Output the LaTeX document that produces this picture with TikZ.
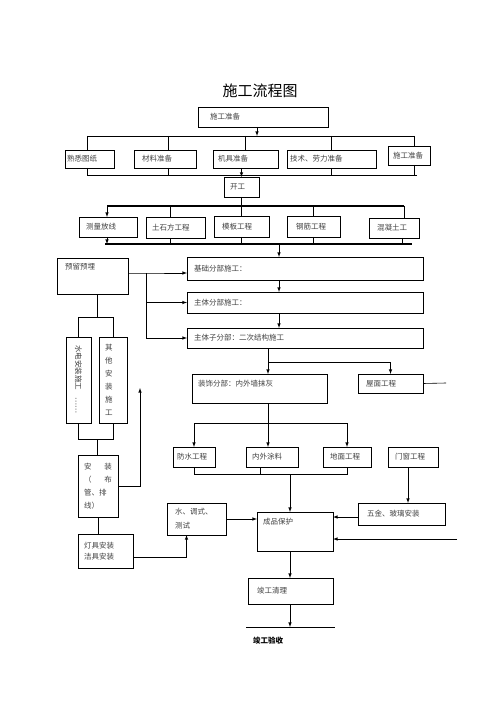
\documentclass[tikz,border=0pt]{standalone}
\usepackage{fontspec}
\setmainfont{Noto Sans CJK SC}
\usetikzlibrary{positioning}

\begin{document}
\begin{tikzpicture}[x=1pt,y=-1pt,semithick,every node/.style={block},
        block/.style={draw,rectangle,outer sep=0pt,inner xsep=6pt,inner ysep=0pt,minimum height=20pt,
          anchor=north west,align=left,text=black!75,font=\fontsize{7.5}{9}\selectfont},
        bus/.style={line width=1.3pt}]
   \useasboundingbox (0,0) rectangle (500,708);
   \node (TT) [draw=none,anchor=center,text=black,font=\fontsize{15}{18}\selectfont] at (260,91) {施工流程图};

   \node (A) [text width=106pt,inner xsep=12pt] at (198,107) {施工准备};
   \node (B) [text width=45pt,inner xsep=2pt,minimum height=18pt] at (65,150) {熟悉图纸};
   \node (C) [text width=46pt,inner xsep=8pt,minimum height=18pt] at (134,150) {材料准备};
   \node (D) [text width=55pt,inner xsep=5pt,minimum height=18pt] at (213,150) {机具准备};
   \node (E) [text width=83pt,inner xsep=3pt,minimum height=18pt] at (287,150) {技术、劳力准备};
   \node (F) [text width=32pt,inner xsep=5pt,minimum height=19pt] at (388,146) {施工准备};
   \node (G) [text width=23pt] at (224,177) {开工};

   \node (H) [text width=44pt,inner xsep=7pt] at (79,217) {测量放线};
   \node (I) [text width=47pt,minimum height=21pt] at (146,217) {土石方工程};
   \node (J) [text width=39pt,inner xsep=8pt,minimum height=21pt] at (214,216) {模板工程};
   \node (K) [text width=35pt,inner xsep=9pt,minimum height=21pt] at (287,216) {钢筋工程};
   \node (L) [text width=34pt,inner xsep=8pt] at (369,218) {混凝土工};

   \node (M) [text width=222pt,inner xsep=7pt,minimum height=23pt] at (187,257) {基础分部施工：};
   \node (N) [below=12pt of M.south west,anchor=north west,text width=222pt,inner xsep=7pt,minimum height=21pt] {主体分部施工：};
   \node (O) [below=15pt of N.south west,anchor=north west,text width=222pt,inner xsep=7pt] {主体子分部：二次结构施工};

   \node (P) [text width=55pt,inner xsep=8pt,minimum height=0pt,text height=11.6pt,text depth=24.4pt] at (57,258) {预留预埋};
   \node (Q) [rotate=-90,anchor=center,text width=70pt,inner xsep=8pt,minimum height=25pt] at (78.5,380) {水电安装施工\quad ……};
   \node (R) [text width=16pt,minimum height=86pt,font=\fontsize{7.5}{13}\selectfont] at (99,337) {其\\他\\安\\装\\施\\工};
   \node (S) [text width=28pt,minimum height=62pt,font=\fontsize{7.5}{13}\selectfont] at (78,455) {安\hfill 装\\（\hfill 布\\管、排\\线）};
   \node (T) [text width=43pt,minimum height=34pt,font=\fontsize{7.5}{11}\selectfont] at (78,534) {灯具安装\\洁具安装};
   \node (U) [text width=43pt,inner xsep=8pt,minimum height=32pt,font=\fontsize{7.5}{14}\selectfont] at (167,503) {水、调式、\\测试};

   \node (V) [text width=123pt,minimum height=0pt,text height=12.6pt,text depth=16.4pt] at (192,374) {装饰分部：内外墙抹灰};
   \node (W) [text width=49pt,inner xsep=8pt,minimum height=19pt] at (358,374) {屋面工程};
   \node (X) [text width=34pt,inner xsep=4pt] at (173,447) {防水工程};
   \node (Y) [text width=40pt] at (246,447) {内外涂料};
   \node (Z) [text width=34pt,inner xsep=7pt] at (323,447) {地面工程};
   \node (AA) [text width=36pt,inner xsep=7pt] at (388,447) {门窗工程};
   \node (AB) [text width=69pt,inner xsep=9pt,minimum height=22pt] at (358,503) {五金、玻璃安装};
   \node (AC) [text width=64pt,minimum height=0pt,text height=12.6pt,text depth=26.4pt] at (257,512) {成品保护};
   \node (AD) [text width=67pt,inner xsep=9pt,minimum height=26pt] at (248,578) {竣工清理};
   \node (AE) [draw=none,anchor=center,text=black,font=\bfseries\fontsize{7.5}{9}\selectfont] at (268,641) {竣工验收};

   \coordinate (a1) at (257,136);
   \coordinate (b1) at (87,136);
   \coordinate (b2) at (414,136);
   \draw[-latex] (A.south -| a1) -- (a1);
   \draw (b1) -- (b2);
   \draw (b1) -- (b1 |- B.north);
   \draw ([xshift=3pt]C.north |- b1) -- ([xshift=3pt]C.north);
   \draw (D.north |- b1) -- (D.north);
   \draw (E.north |- b1) -- (E.north);
   \draw (b2) -- (b2 |- F.north);

   \coordinate (c1) at (87,175);
   \coordinate (c2) at (417,175);
   \draw (c1) -- (c2);
   \draw (c1 |- B.south) -- (c1);
   \draw ([xshift=3pt]C.south) -- ([xshift=3pt]C.south |- c1);
   \draw (E.south) -- (E.south |- c1);
   \draw (F.south -| b2) -- (c1 -| b2);
   \draw[-latex] (D.south -| G.north) -- (G.north);

   \coordinate (d1) at (107,206);
   \coordinate (d2) at (404,206);
   \draw (G.south) -- (G.south |- d1);
   \draw[bus] (d1) -- (d2);
   \draw[-latex] (d1) -- (d1 |- H.north);
   \draw ([xshift=-5pt]I.north |- d1) -- ([xshift=-5pt]I.north);
   \draw (J.north |- d1) -- (J.north);
   \draw (K.north |- d1) -- (K.north);
   \draw (d2) -- (d2 |- L.north);

   \coordinate (e1) at (105,244);
   \coordinate (e2) at (412,244);
   \coordinate (m1) at (279,244);
   \draw[bus] (e1) -- (e2);
   \draw[-latex] (H.south -| d1) -- (e1 -| d1);
   \draw ([xshift=-5pt]I.south) -- ([xshift=-5pt]I.south |- e1);
   \draw[bus] (J.south) -- (J.south |- e1);
   \draw (K.south) -- (K.south |- e1);
   \draw ([xshift=8pt]L.south) -- ([xshift=8pt]L.south |- e1);
   \draw[-latex] (m1) -- (m1 |- M.north);
   \draw[-latex] (M.south -| m1) -- (N.north -| m1);
   \draw[-latex] (N.south -| m1) -- (O.north -| m1);

   \coordinate (p1) at (146,273);
   \draw[-latex] ([yshift=3pt]P.east) -- (p1) -- (p1 -| M.west);
   \draw[-latex] (p1) |- (N.west);
   \draw[-latex] (p1) |- (O.west);

   \coordinate (q1) at (97,317);
   \coordinate (q2) at (97,439);
   \draw (P.south -| q1) -- (q1);
   \draw (Q.west) |- (R.north |- q1) -- (R.north);
   \draw (Q.east) |- (R.south |- q2) -- (R.south);
   \draw (q2) -- (q2 |- S.north);

   \coordinate (s1) at (140,388);
   \draw[-latex] (S.east) -| (s1);
   \draw (S.south) -- (S.south |- T.north);
   \draw[-latex] ([yshift=-6pt]T.east) -| ([xshift=-10pt]U.south);
   \draw[-latex] (U.east) -- (U.east -| AC.west);

   \coordinate (o1) at (268,362);
   \draw[-latex] (O.south -| o1) -- (V.north -| o1);
   \draw[-latex] (o1) -| (W.north);
   \coordinate (w1) at (446,383);
   \draw (W.east) -- (w1);

   \coordinate (v1) at (268,423);
   \draw (V.south -| v1) -- (v1);
   \draw[-latex] (v1) -| (X.north);
   \draw[-latex] (v1) -| (Z.north);
   \draw[-latex] (v1) -- (v1 |- Y.north);

   \coordinate (x1) at (290,474);
   \draw (X.south) |- (Z.south |- x1) -- (Z.south);
   \draw ([xshift=-12pt]Y.south) -- ([xshift=-12pt]Y.south |- x1);
   \draw[-latex] (x1) -- (x1 |- AC.north);

   \draw[-latex] ([xshift=-5pt]AA.south) -- ([xshift=-5pt]AA.south |- AB.north);
   \draw[-latex] ([yshift=-3pt]AB.west) -- ([yshift=-3pt]AB.west -| AC.east);
   \coordinate (r1) at (457,539);
   \draw[-latex] (r1) -- (r1 -| AC.east);

   \coordinate (z1) at (246,627);
   \coordinate (z2) at (335,627);
   \draw[-latex] (AC.south -| x1) -- (AD.north -| x1);
   \draw[-latex] (AD.south -| x1) -- (x1 |- z1);
   \draw (z1) -- (z2);

\end{tikzpicture}
\end{document}
